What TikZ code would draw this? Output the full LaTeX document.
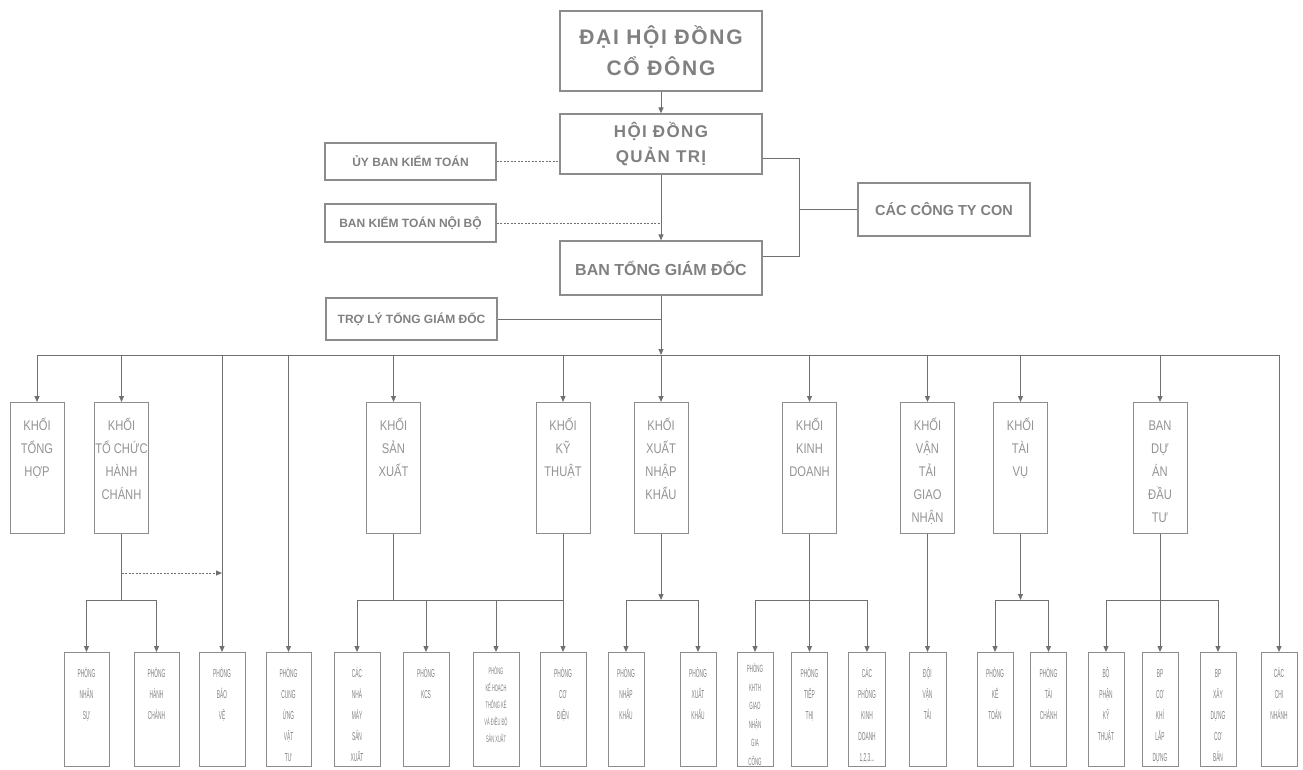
\documentclass[tikz,border=0pt]{standalone}
\usepackage{fontspec}
\setmainfont{Liberation Sans}
\newfontfamily\titlefont[LetterSpace=8]{Liberation Sans}
\newfontfamily\khoifont[FakeStretch=0.8]{Liberation Sans}
\newfontfamily\phongfont[FakeStretch=0.42]{Liberation Sans}
\usetikzlibrary{positioning, arrows.meta, calc}

\definecolor{chuxam}{gray}{0.5}
\definecolor{vienxam}{gray}{0.55}

% hop chu: cao, rong, dong dau, noi dung
\newcommand\chuhop[4]{\parbox[c][#1][t]{#2}{\centering\rule{0pt}{#3}#4}}

\tikzset{
  hopcao/.style={draw=vienxam, line width=1.2pt, text=chuxam, inner sep=0pt, align=center},
  khoibox/.style={draw=vienxam, line width=1pt, text=chuxam!85, inner sep=0pt, anchor=north, font=\khoifont\fontsize{14}{23}\selectfont},
  phongbox/.style={draw=vienxam, line width=1pt, text=chuxam, inner sep=0pt, anchor=north, font=\phongfont\fontsize{11.5}{21}\selectfont},
  duong/.style={draw=vienxam!80!black, line width=1pt},
  muiten/.style={duong, -{Triangle[length=6pt,width=5pt]}},
  chamcham/.style={duong, dash pattern=on 2pt off 1.5pt}
}

\begin{document}
\begin{tikzpicture}[x=1pt, y=-1pt]
  \useasboundingbox (0,0) rectangle (1303,769);

  % cap lanh dao
  \node[hopcao, minimum width=202pt, minimum height=80pt, font=\titlefont\bfseries\fontsize{21}{31}\selectfont] (dhdcd) at (661,51) {ĐẠI HỘI ĐỒNG\\CỔ ĐÔNG};
  \node[hopcao, minimum width=202pt, minimum height=60pt, font=\titlefont\bfseries\fontsize{17}{25}\selectfont] (hdqt) at (661,144) {HỘI ĐỒNG\\QUẢN TRỊ};
  \node[hopcao, minimum width=202pt, minimum height=54pt, font=\bfseries\fontsize{16}{20}\selectfont] (btgd) at (661,268) {BAN TỔNG GIÁM ĐỐC};
  \node[hopcao, minimum width=171pt, minimum height=37pt, font=\bfseries\fontsize{12}{15}\selectfont] (ubkt) at (410.5,161.5) {ỦY BAN KIỂM TOÁN};
  \node[hopcao, minimum width=171pt, minimum height=38pt, font=\bfseries\fontsize{12}{15}\selectfont] (bktnb) at (410.5,223) {BAN KIỂM TOÁN NỘI BỘ};
  \node[hopcao, minimum width=171pt, minimum height=42pt, font=\bfseries\fontsize{12}{15}\selectfont] (tlgd) at (411.5,319) {TRỢ LÝ TỔNG GIÁM ĐỐC};
  \node[hopcao, minimum width=172pt, minimum height=53pt, font=\bfseries\fontsize{14.5}{18}\selectfont] (ctcon) at (944,209.5) {CÁC CÔNG TY CON};

  \coordinate (moc) at (799,209.5);
  \coordinate (truc) at (661,355);
  \coordinate (nhanhduoi) at (0,600);
  \coordinate (bvcham) at (0,573);

  \draw[muiten] (dhdcd) -- (hdqt);
  \draw[chamcham] (ubkt.east) -- (ubkt.east -| hdqt.west);
  \draw[muiten] (hdqt) -- (btgd);
  \draw[chamcham] (bktnb.east) -- (bktnb.east -| hdqt.south);
  \draw[duong] ([yshift=-14pt]hdqt.east) -| (moc) |- ([yshift=12pt]btgd.east);
  \draw[duong] (moc) -- (ctcon);
  \draw[duong] (tlgd.east) -- (tlgd.east -| btgd.south);
  \draw[muiten] (btgd) -- (btgd |- truc);

  % cac khoi
  \foreach \ten/\x/\chu in {
    khoith/37/{KHỐI\\TỔNG\\HỢP},
    khoitchc/121.5/{KHỐI\\TỔ CHỨC\\HÀNH\\CHÁNH},
    khoisx/393.5/{KHỐI\\SẢN\\XUẤT},
    khoikt/563/{KHỐI\\KỸ\\THUẬT},
    khoixnk/661/{KHỐI\\XUẤT\\NHẬP\\KHẨU},
    khoikd/809.5/{KHỐI\\KINH\\DOANH},
    khoivt/927.5/{KHỐI\\VẬN\\TẢI\\GIAO\\NHẬN},
    khoitv/1020.5/{KHỐI\\TÀI\\VỤ},
    bandatu/1160/{BAN\\DỰ\\ÁN\\ĐẦU\\TƯ}}
    \node[khoibox] (\ten) at (\x,402) {\chuhop{131pt}{54pt}{28pt}{\chu}};

  % cac phong
  \foreach \ten/\x/\w/\chu in {
    pnhansu/86.5/45/{PHÒNG\\NHÂN\\SỰ},
    phanhchanh/156.5/45/{PHÒNG\\HÀNH\\CHÁNH},
    pbaove/222/46/{PHÒNG\\BẢO\\VỆ},
    pcungung/288.5/45/{PHÒNG\\CUNG\\ỨNG\\VẬT\\TƯ},
    nhamay/357/46/{CÁC\\NHÀ\\MÁY\\SẢN\\XUẤT},
    pkcs/426/46/{PHÒNG\\KCS},
    pcodien/563/46/{PHÒNG\\CƠ\\ĐIỆN},
    pnhapkhau/626/36/{PHÒNG\\NHẬP\\KHẨU},
    pxuatkhau/698/36/{PHÒNG\\XUẤT\\KHẨU},
    ptiepthi/809.5/36/{PHÒNG\\TIẾP\\THỊ},
    pkinhdoanh/867/37/{CÁC\\PHÒNG\\KINH\\DOANH\\1,2,3...},
    doivantai/927.5/37/{ĐỘI\\VẬN\\TẢI},
    pketoan/995/36/{PHÒNG\\KẾ\\TOÁN},
    ptaichanh/1048.5/36/{PHÒNG\\TÀI\\CHÁNH},
    bpkythuat/1106/36/{BỘ\\PHẬN\\KỸ\\THUẬT},
    bpcokhi/1160/36/{BP\\CƠ\\KHÍ\\LẮP\\DỰNG},
    bpxaydung/1218/36/{BP\\XÂY\\DỰNG\\CƠ\\BẢN},
    cacchinhanh/1279/36/{CÁC\\CHI\\NHÁNH}}
    \node[phongbox] (\ten) at (\x,652) {\chuhop{114pt}{\w pt}{25pt}{\chu}};
  \node[phongbox, font=\phongfont\fontsize{9.5}{17}\selectfont] (pkehoach) at (496,652) {\chuhop{114pt}{46pt}{22pt}{PHÒNG\\KẾ HOẠCH\\THỐNG KÊ\\VÀ ĐIỀU ĐỘ\\SẢN XUẤT}};
  \node[phongbox, font=\phongfont\fontsize{10.5}{18.5}\selectfont] (pkthgn) at (755,652) {\chuhop{114pt}{36pt}{20pt}{PHÒNG\\KHTH\\GIAO\\NHẬN\\GIA\\CÔNG}};

  % truc ngang chinh
  \draw[duong] (truc -| khoith) -- (truc -| cacchinhanh);
  \foreach \ten in {khoith, khoitchc, khoisx, khoikt, khoixnk, khoikd, khoivt, khoitv, bandatu, pbaove, pcungung, cacchinhanh}
    \draw[muiten] (truc -| \ten) -- (\ten);

  % khoi to chuc hanh chanh
  \draw[duong] (khoitchc) -- (khoitchc |- nhanhduoi);
  \draw[duong] (nhanhduoi -| pnhansu) -- (nhanhduoi -| phanhchanh);
  \draw[muiten, chamcham] (khoitchc |- bvcham) -- (pbaove |- bvcham);

  % khoi san xuat + ky thuat
  \draw[duong] (khoisx) -- (khoisx |- nhanhduoi);
  \draw[duong] (khoikt) -- (khoikt |- nhanhduoi);
  \draw[duong] (nhanhduoi -| nhamay) -- (nhanhduoi -| pcodien);

  % khoi xuat nhap khau
  \draw[muiten] (khoixnk) -- (khoixnk |- nhanhduoi);
  \draw[duong] (nhanhduoi -| pnhapkhau) -- (nhanhduoi -| pxuatkhau);

  % khoi kinh doanh, van tai
  \draw[muiten] (khoikd) -- (ptiepthi);
  \draw[duong] (nhanhduoi -| pkthgn) -- (nhanhduoi -| pkinhdoanh);
  \draw[muiten] (khoivt) -- (doivantai);

  % khoi tai vu, ban du an
  \draw[muiten] (khoitv) -- (khoitv |- nhanhduoi);
  \draw[duong] (nhanhduoi -| pketoan) -- (nhanhduoi -| ptaichanh);
  \draw[muiten] (bandatu) -- (bpcokhi);
  \draw[duong] (nhanhduoi -| bpkythuat) -- (nhanhduoi -| bpxaydung);

  \foreach \ten in {pnhansu, phanhchanh, nhamay, pkcs, pkehoach, pcodien, pnhapkhau, pxuatkhau, pkthgn, pkinhdoanh, pketoan, ptaichanh, bpkythuat, bpxaydung}
    \draw[muiten] (nhanhduoi -| \ten) -- (\ten);
\end{tikzpicture}
\end{document}
